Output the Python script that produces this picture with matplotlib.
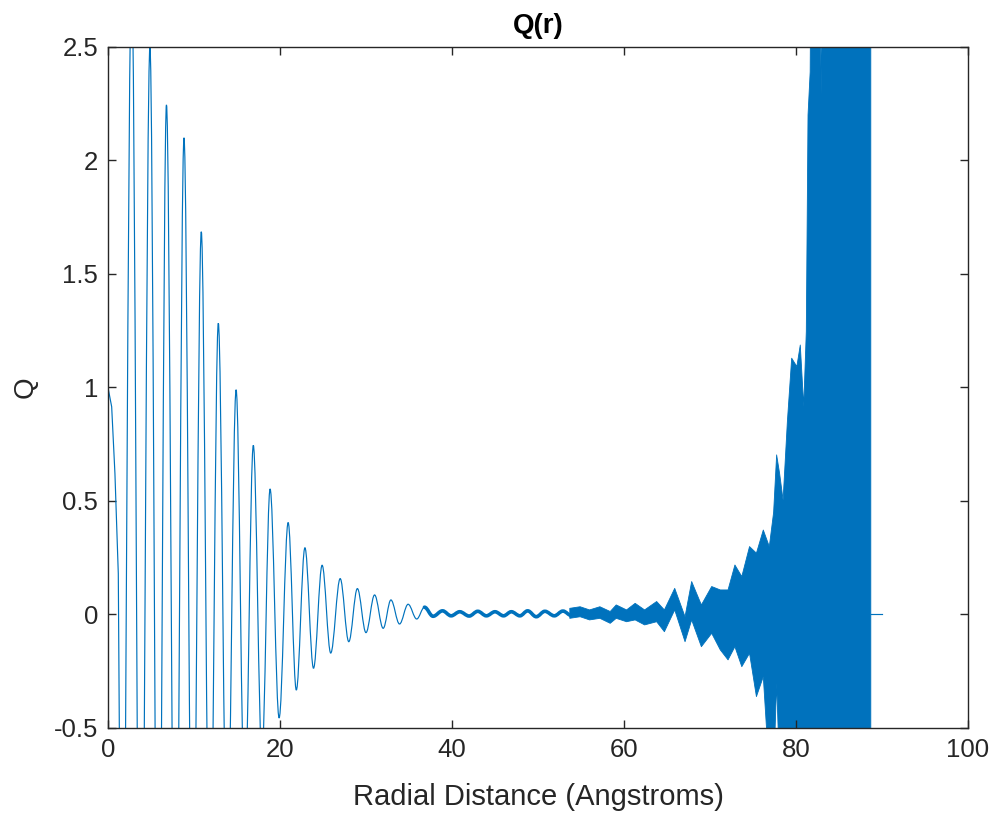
import numpy as np
import matplotlib
matplotlib.use('Agg')
import matplotlib.pyplot as plt
from matplotlib.path import Path
from matplotlib.patches import PathPatch

# Q(r) data
# first slope (plain readings)
r_start = [0, 0.43, 0.81, 1.2, 1.6]
q_start = [1.0, 0.915, 0.62, 0.18, -2.1]

# clean oscillating part: successive extrema (peak / trough)
r_clean = [1.6, 2.75, 3.8, 4.88, 5.85, 6.8, 7.85, 8.84, 9.85,
           10.85, 11.85, 12.83, 13.85, 14.9, 15.9, 16.9, 17.9, 18.85, 19.9, 20.95,
           21.9, 22.9, 23.9, 24.9, 25.9, 27.0, 28.0, 29.0, 30.0, 31.0, 32.0, 32.9,
           33.9, 34.9, 35.9, 36.8]
q_clean = [-2.1, 2.8, -2.0, 2.5, -1.9, 2.245, -1.75, 2.10, -1.5,
           1.686, -1.3, 1.283, -1.1, 0.99, -0.85, 0.745, -0.62, 0.553, -0.456, 0.405,
           -0.333, 0.294, -0.237, 0.217, -0.17, 0.158, -0.12, 0.114, -0.08, 0.086, -0.061, 0.064,
           -0.042, 0.045, -0.02, 0.032]

# slightly noisy middle part (line looks thicker here), extrema again
r_mid = [36.8, 37.8, 38.9, 39.9, 40.9, 42.0, 43.0, 44.0, 45.0, 46.0, 46.9, 47.9,
         48.8, 49.8, 50.8, 51.9, 52.9, 53.9, 54.9]
q_mid = [0.032, -0.008, 0.016, -0.006, 0.012, -0.007, 0.014, -0.006, 0.012, -0.006, 0.012, -0.006,
         0.016, -0.010, 0.014, -0.006, 0.015, -0.005, 0.012]

# very noisy tail: upper / lower envelope of the trace
r_env = [53.7, 54.9, 56.0, 57.2, 58.4, 59.1, 60.3, 61.3, 62.4, 63.8, 64.7, 65.9, 67.1,
         67.87, 69.0, 70.2, 71.2, 72.1, 72.9, 73.7, 74.6, 75.4, 76.2, 76.9, 77.4, 77.75,
         78.1, 78.5, 79.0, 79.5, 80.1, 80.5, 80.9, 81.2, 81.4, 81.65, 81.75, 82.7, 82.95,
         83.1, 88.7]
q_upper = [0.027, 0.034, 0.020, 0.034, 0.013, 0.042, 0.020, 0.049, 0.020, 0.057, 0.020, 0.115, -0.010,
           0.145, 0.042, 0.123, 0.108, 0.108, 0.218, 0.167, 0.299, 0.270, 0.372, 0.299, 0.45, 0.703,
           0.62, 0.504, 0.85, 1.129, 1.092, 1.187, 0.916, 1.246, 2.2, 2.39, 3.0, 3.0, 2.29,
           3.0, 3.0]
q_lower = [-0.017, -0.010, -0.024, -0.017, -0.039, -0.017, -0.032, -0.024, -0.046, -0.032, -0.076, 0.020, -0.120,
           -0.024, -0.142, -0.083, -0.156, -0.200, -0.142, -0.230, -0.171, -0.362, -0.274, -0.7, -0.7, -0.303,
           -0.7, -0.8, -0.8, -0.8, -0.8, -0.8, -0.8, -0.8, -0.8, -0.8, -0.8, -0.8, -0.8,
           -0.8, -0.8]

# flat zero after the signal ends
r_end = [88.7, 90.0]
q_end = [0, 0]

x_ticks = [0, 20, 40, 60, 80, 100]
y_ticks = [-0.5, 0, 0.5, 1, 1.5, 2, 2.5]
y_labels = ['-0.5', '0', '0.5', '1', '1.5', '2', '2.5']

blue = '#0072BD'
dark = '#262626'


def extrema_path(xs, ys):
    # smooth curve through extrema: cubic bezier, flat tangent at each extremum
    verts = [(xs[0], ys[0])]
    codes = [Path.MOVETO]
    for i in range(len(xs) - 1):
        dx = xs[i + 1] - xs[i]
        verts += [(xs[i] + 0.36 * dx, ys[i]), (xs[i + 1] - 0.36 * dx, ys[i + 1]), (xs[i + 1], ys[i + 1])]
        codes += [Path.CURVE4] * 3
    return Path(verts, codes)


plt.rcParams['font.family'] = ['Liberation Sans', 'DejaVu Sans']
plt.rcParams['axes.unicode_minus'] = False

fig = plt.figure(figsize=(9.97, 8.14), dpi=100)
ax = fig.add_axes([0.1083, 0.1057, 0.8626, 0.8366])

ax.plot(r_start, q_start, color=blue, linewidth=0.85)
ax.add_patch(PathPatch(extrema_path(r_clean, q_clean), facecolor='none', edgecolor=blue, linewidth=0.85))
ax.add_patch(PathPatch(extrema_path(r_mid, q_mid), facecolor='none', edgecolor=blue, linewidth=2.6,
                       joinstyle='round', capstyle='round'))
ax.fill_between(r_env, q_lower, q_upper, color=blue, linewidth=0.6, edgecolor=blue)
ax.plot(r_end, q_end, color=blue, linewidth=0.85)

ax.set_xlim(0, 100)
ax.set_ylim(-0.5, 2.5)
ax.set_xticks(x_ticks)
ax.set_xticklabels([str(t) for t in x_ticks])
ax.set_yticks(y_ticks)
ax.set_yticklabels(y_labels)

ax.tick_params(direction='in', length=6, width=1.0, colors=dark, labelsize=18.5,
               top=True, right=True, pad=7)
for s in ax.spines.values():
    s.set_color(dark)
    s.set_linewidth(1.0)

ax.set_title('Q(r)', fontsize=20, fontweight='bold', color='black', pad=10)
ax.set_xlabel('Radial Distance (Angstroms)', fontsize=21, color=dark, labelpad=15)
ax.set_ylabel('Q', fontsize=20, color=dark, labelpad=11)

fig.savefig('out.png', dpi=100)
